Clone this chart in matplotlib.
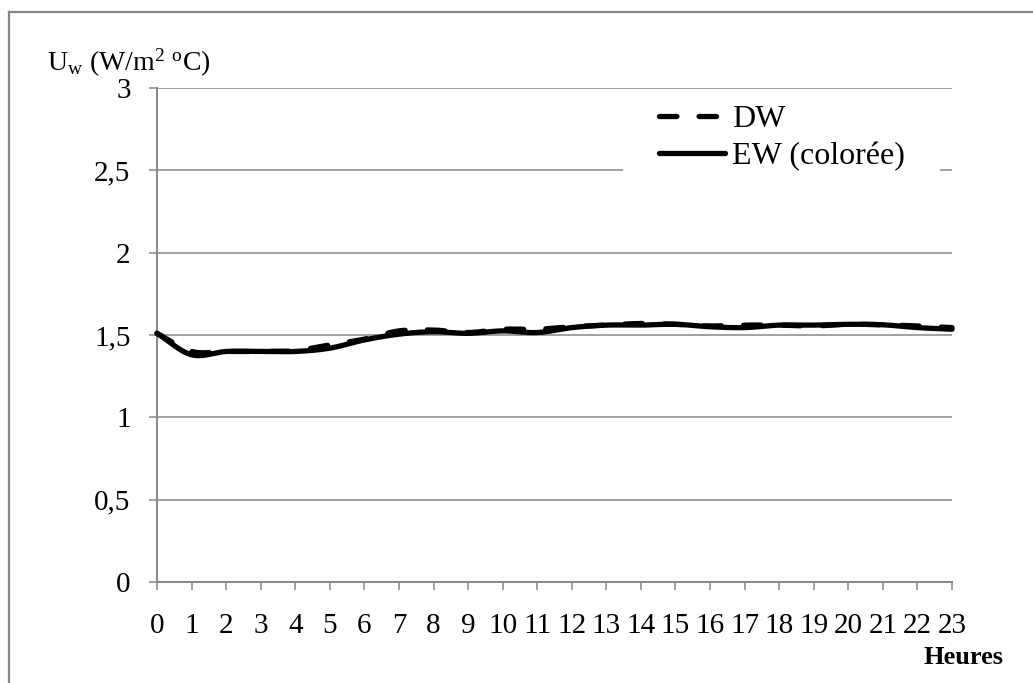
import numpy as np
import matplotlib
matplotlib.use("Agg")
import matplotlib.pyplot as plt
from matplotlib.lines import Line2D
from matplotlib.patches import Rectangle
from matplotlib.ticker import FuncFormatter

hours = list(range(24))
dw = [1.51, 1.40, 1.40, 1.40, 1.405, 1.44, 1.475, 1.525, 1.53, 1.515, 1.535, 1.535,
      1.55, 1.56, 1.57, 1.565, 1.555, 1.56, 1.56, 1.555, 1.565, 1.562, 1.555, 1.545]
ew = [1.51, 1.38, 1.40, 1.40, 1.40, 1.42, 1.47, 1.505, 1.52, 1.51, 1.525, 1.515,
      1.545, 1.56, 1.56, 1.565, 1.55, 1.545, 1.56, 1.56, 1.565, 1.562, 1.545, 1.535]
yticks = [0, 0.5, 1, 1.5, 2, 2.5, 3]
labels = ["DW", "EW (colorée)"]

plt.rcParams['font.family'] = ['Liberation Serif', 'DejaVu Serif']
plt.rcParams['mathtext.fontset'] = 'custom'
plt.rcParams['mathtext.rm'] = 'Liberation Serif'
plt.rcParams['mathtext.it'] = 'Liberation Serif'


def smooth(x, y, n=16):
    """Catmull-Rom rendering of a smoothed line through the points (like Excel)."""
    x = np.asarray(x, float)
    y = np.asarray(y, float)
    px = np.concatenate([[2 * x[0] - x[1]], x, [2 * x[-1] - x[-2]]])
    py = np.concatenate([[2 * y[0] - y[1]], y, [2 * y[-1] - y[-2]]])
    xs, ys = [], []
    t = np.linspace(0, 1, n, endpoint=False)
    for i in range(1, len(px) - 2):
        for p, out in ((px, xs), (py, ys)):
            p0, p1, p2, p3 = p[i - 1], p[i], p[i + 1], p[i + 2]
            out.extend(0.5 * (2 * p1 + (-p0 + p2) * t + (2 * p0 - 5 * p1 + 4 * p2 - p3) * t ** 2
                              + (-p0 + 3 * p1 - 3 * p2 + p3) * t ** 3))
    xs.append(x[-1])
    ys.append(y[-1])
    return np.array(xs), np.array(ys)


W, H = 1033, 683
fig = plt.figure(figsize=(W / 100, H / 100), dpi=100)
ax = fig.add_axes([157 / W, 1 - 582 / H, 795 / W, 494 / H])

grey = '#878787'
ax.set_axisbelow(True)
ax.grid(axis='y', color=grey, linewidth=1.1)
ax.grid(axis='x', visible=False)
for s in ['top', 'right']:
    ax.spines[s].set_visible(False)
for s in ['left', 'bottom']:
    ax.spines[s].set_color(grey)
    ax.spines[s].set_linewidth(1.4)

dash = (0, (3.3, 4.2))
xs, ys = smooth(hours, dw)
ax.plot(xs, ys, color='black', linewidth=3.8, linestyle=dash,
        solid_capstyle='round', dash_capstyle='round', zorder=3, clip_on=False)
xs, ys = smooth(hours, ew)
ax.plot(xs, ys, color='black', linewidth=3.8, solid_capstyle='round', zorder=4, clip_on=False)

ax.set_xlim(0, 23)
ax.set_ylim(0, 3)
ax.set_xticks(hours)
ax.set_yticks(yticks)
ax.yaxis.set_major_formatter(FuncFormatter(lambda v, p: ('%g' % v).replace('.', ',')))
ax.tick_params(axis='both', direction='out', color=grey, width=1.1, labelsize=21)
ax.tick_params(axis='y', length=6, pad=13)
ax.tick_params(axis='x', length=5.5, pad=17)
ax.tick_params(axis='x', which='both', top=False)

# white background behind legend (hides the 2.5 gridline there)
ax.add_patch(Rectangle(((623 - 157) / 795, 0.78), (940 - 623) / 795, 0.18,
                       transform=ax.transAxes, facecolor='white', edgecolor='none', zorder=1))

handles = [Line2D([], [], color='black', linewidth=3.8, linestyle=dash, dash_capstyle='round'),
           Line2D([], [], color='black', linewidth=3.8, solid_capstyle='round')]
fig.legend(handles, labels, loc='upper left', bbox_to_anchor=(659 / W, 1 - 105 / H),
           frameon=False, fontsize=23, handlelength=2.07, handletextpad=0.22,
           labelspacing=0.22, borderpad=0, borderaxespad=0)

fig.text(47 / W, 1 - 71 / H, r'$\mathregular{U_w\ (W/m^2\ ^oC)}$', fontsize=20,
         ha='left', va='baseline')
fig.text(1004 / W, 1 - 664 / H, 'Heures', fontsize=19, fontweight='bold',
         ha='right', va='baseline')

# outer border (left and top visible)
fig.add_artist(Line2D([9 / W, 9 / W], [0, 1 - 12 / H], transform=fig.transFigure,
                      color=grey, linewidth=1.6))
fig.add_artist(Line2D([9 / W, 1], [1 - 12 / H, 1 - 12 / H], transform=fig.transFigure,
                      color=grey, linewidth=1.6))

fig.savefig('out.png', dpi=100, facecolor='white')
